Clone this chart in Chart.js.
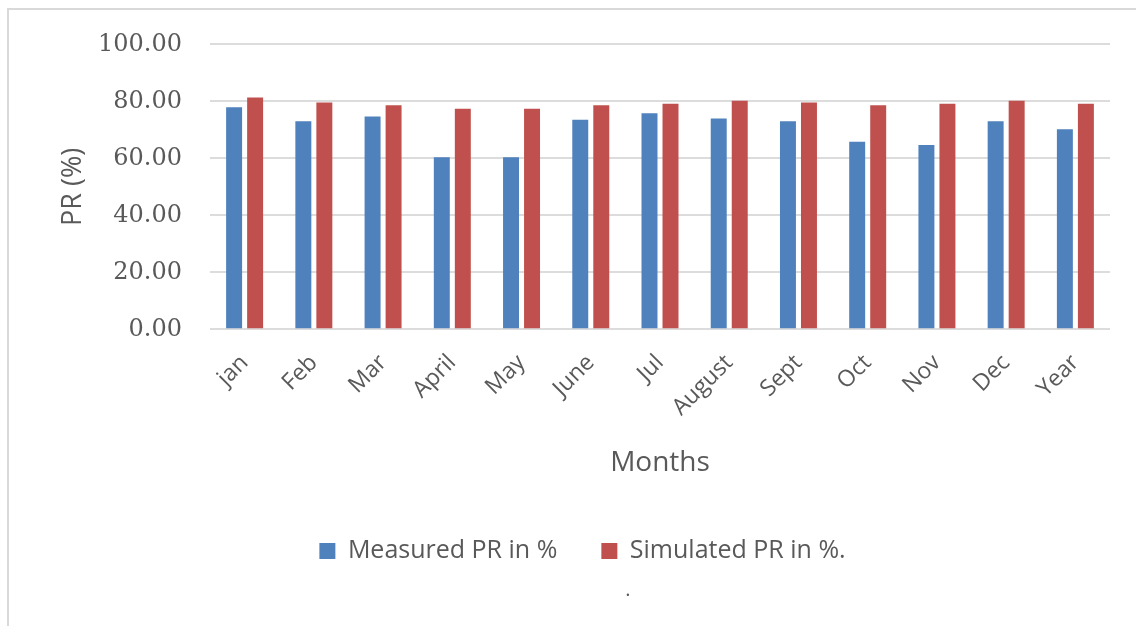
<!DOCTYPE html>
<html>
<head>
<meta charset="utf-8">
<script src="https://cdn.jsdelivr.net/npm/chart.js@4.4.0/dist/chart.umd.min.js"></script>
<style>
html,body{margin:0;padding:0;background:#fff;}
#wrap{width:1136px;height:626px;position:relative;}
</style>
</head>
<body>
<div id="wrap"><canvas id="c" width="1136" height="626"></canvas></div>
<script>
const categories = ["jan","Feb","Mar","April","May","June","Jul","August","Sept","Oct","Nov","Dec","Year"];
const measuredPR = [77.9,73.0,74.7,60.4,60.4,73.5,75.8,74.0,73.0,65.8,64.7,73.0,70.2];
const simulatedPR = [81.3,79.6,78.6,77.4,77.4,78.6,79.1,80.2,79.6,78.6,79.1,80.2,79.1];
const seriesNames = ["Measured PR in %","Simulated PR in %."];
const yTicks = {min:0, max:100, step:20};
const footNote = ".";

const grey = '#595959';

const frame = {
  id:'frame',
  beforeDraw(chart){
    const ctx = chart.ctx;
    ctx.save();
    ctx.fillStyle='#fff';
    ctx.fillRect(0,0,chart.width,chart.height);
    ctx.strokeStyle='#d9d9d9';
    ctx.lineWidth=2;
    ctx.beginPath();
    ctx.moveTo(8,chart.height);
    ctx.lineTo(8,9);
    ctx.lineTo(chart.width,9);
    ctx.stroke();
    ctx.restore();
  },
  afterDraw(chart){
    const ctx = chart.ctx;
    ctx.save();
    ctx.fillStyle=grey;
    ctx.font='20px "Open Sans"';
    ctx.textAlign='center';
    ctx.textBaseline='middle';
    ctx.fillText(footNote, 628, 590);
    ctx.restore();
  }
};

new Chart(document.getElementById('c'), {
  type:'bar',
  data:{
    labels:categories,
    datasets:[
      {label:seriesNames[0], data:measuredPR, backgroundColor:'#4F81BD', categoryPercentage:0.607, barPercentage:0.76},
      {label:seriesNames[1], data:simulatedPR, backgroundColor:'#C0504D', categoryPercentage:0.607, barPercentage:0.76}
    ]
  },
  options:{
    responsive:false,
    animation:false,
    layout:{padding:{top:44.3,left:55,right:26,bottom:52.5}},
    plugins:{
      legend:{
        position:'bottom',
        labels:{font:{family:'Open Sans',size:25},color:grey,boxWidth:16,boxHeight:16,padding:44}
      },
      title:{display:false},
      tooltip:{enabled:false}
    },
    scales:{
      x:{
        grid:{display:false},
        border:{display:false},
        ticks:{autoSkip:false,maxRotation:45,minRotation:45,color:grey,font:{family:'Open Sans',size:23},padding:12},
        title:{display:true,text:'Months',color:grey,font:{family:'Open Sans',size:28},padding:{top:0,bottom:14.7}},
        afterFit(s){s.height=165.2;}
      },
      y:{
        min:yTicks.min,max:yTicks.max,
        grid:{color:'#dcdcdc',lineWidth:2,drawTicks:false},
        border:{display:false},
        ticks:{stepSize:yTicks.step,color:grey,font:{family:'DejaVu Serif',size:24},padding:28,callback:v=>Number(v).toFixed(2)},
        title:{display:true,text:'PR (%)',color:grey,font:{family:'Open Sans',size:27},padding:{top:2,bottom:0}},
        afterFit(s){s.width=155;}
      }
    }
  },
  plugins:[frame]
});
</script>
</body>
</html>
